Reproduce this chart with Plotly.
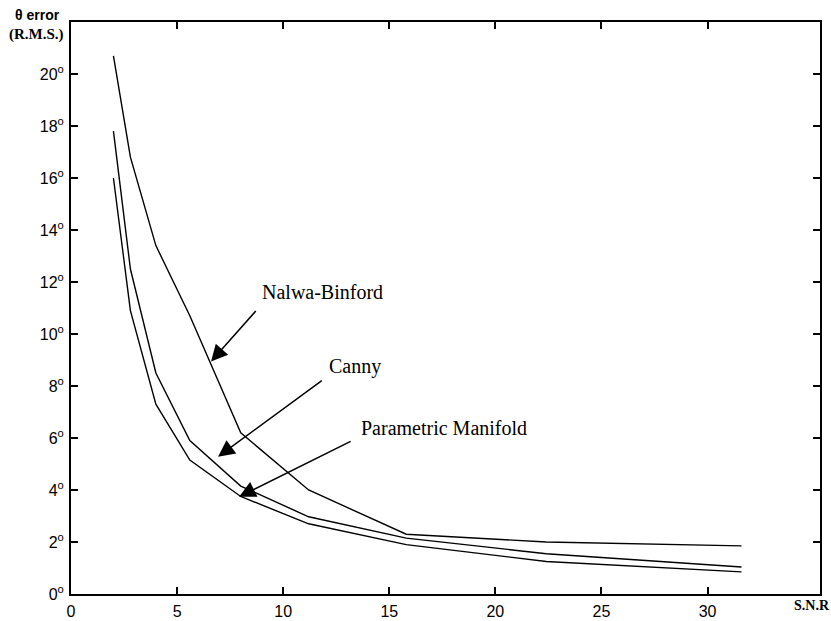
import plotly.graph_objects as go

snr = [2, 2.8, 4, 5.6, 8, 11.2, 15.8, 22.4, 31.6]
nalwa_binford = [20.7, 16.8, 13.4, 10.7, 6.2, 4.0, 2.3, 2.0, 1.85]
canny = [17.8, 12.5, 8.5, 5.9, 4.15, 2.97, 2.15, 1.55, 1.04]
parametric_manifold = [16.0, 10.9, 7.3, 5.15, 3.75, 2.7, 1.9, 1.25, 0.85]

x_ticks = [0, 5, 10, 15, 20, 25, 30]
y_ticks = [0, 2, 4, 6, 8, 10, 12, 14, 16, 18, 20]
y_ticktext = [f"{v}<sup>o</sup>" for v in y_ticks]

# label text, text anchor (x, y), arrow head (x, y), arrow tail (x, y)
labels = [
    ("Nalwa-Binford", 11.84, 11.6, 6.6, 8.94, 8.77, 10.94, "center"),
    ("Canny", 13.4, 8.75, 6.93, 5.28, 11.89, 8.25, "center"),
    ("Parametric Manifold", 13.55, 6.4, 7.92, 3.74, 13.25, 5.9, "left"),
]

fig = go.Figure()
for name, ys in [("Nalwa-Binford", nalwa_binford), ("Canny", canny),
                 ("Parametric Manifold", parametric_manifold)]:
    fig.add_trace(go.Scatter(x=snr, y=ys, mode="lines", name=name,
                             line=dict(color="black", width=1.4)))

serif = "Liberation Serif"
sans = "Liberation Sans"

annotations = []
for text, tx, ty, hx, hy, ax, ay, anchor in labels:
    annotations.append(dict(x=tx, y=ty, xref="x", yref="y", text=text,
                            showarrow=False, xanchor=anchor, yanchor="middle",
                            font=dict(family=serif, size=20, color="black")))
    annotations.append(dict(x=hx, y=hy, xref="x", yref="y", ax=ax, ay=ay,
                            axref="x", ayref="y", text="", showarrow=True,
                            arrowhead=2, arrowsize=2.2, arrowwidth=1.5,
                            arrowcolor="black"))

L, R, T, B = 71, 11, 22, 27
W, H = 831, 621
pw, ph = W - L - R, H - T - B

def px(x, y):
    return (x - L) / pw, (H - B - y) / ph

outer = [
    ("<b>θ error</b>", 37, 15, sans, 14),
    ("<b>(R.M.S.)</b>", 36, 35, serif, 15),
    ("<b>S.N.R</b>", 812, 605, serif, 14),
]
for text, x, y, fam, size in outer:
    xp, yp = px(x, y)
    annotations.append(dict(x=xp, y=yp, xref="paper", yref="paper", text=text,
                            showarrow=False, xanchor="center", yanchor="middle",
                            font=dict(family=fam, size=size, color="black")))

fig.update_layout(
    width=W, height=H,
    margin=dict(l=L, r=R, t=T, b=B),
    paper_bgcolor="white", plot_bgcolor="white",
    showlegend=False,
    annotations=annotations,
    xaxis=dict(range=[0, 35.3], tickvals=x_ticks, ticks="inside", ticklen=7,
               tickwidth=1.5, tickcolor="black", showline=True, linewidth=2,
               linecolor="black", mirror="ticks", showgrid=False, zeroline=False,
               automargin=False, ticklabelstandoff=2,
               tickfont=dict(family=sans, size=16, color="black")),
    yaxis=dict(range=[0, 22], tickvals=y_ticks, ticktext=y_ticktext,
               ticks="inside", ticklen=7, tickwidth=1.5, tickcolor="black",
               showline=True, linewidth=2, linecolor="black", mirror="ticks",
               showgrid=False, zeroline=False, automargin=False,
               ticklabelstandoff=2,
               tickfont=dict(family=sans, size=16, color="black")),
)

fig.write_html("out.html",
               config={"displayModeBar": False},
               post_script="document.body.style.margin='0';"
                           "document.body.style.overflow='hidden';")
